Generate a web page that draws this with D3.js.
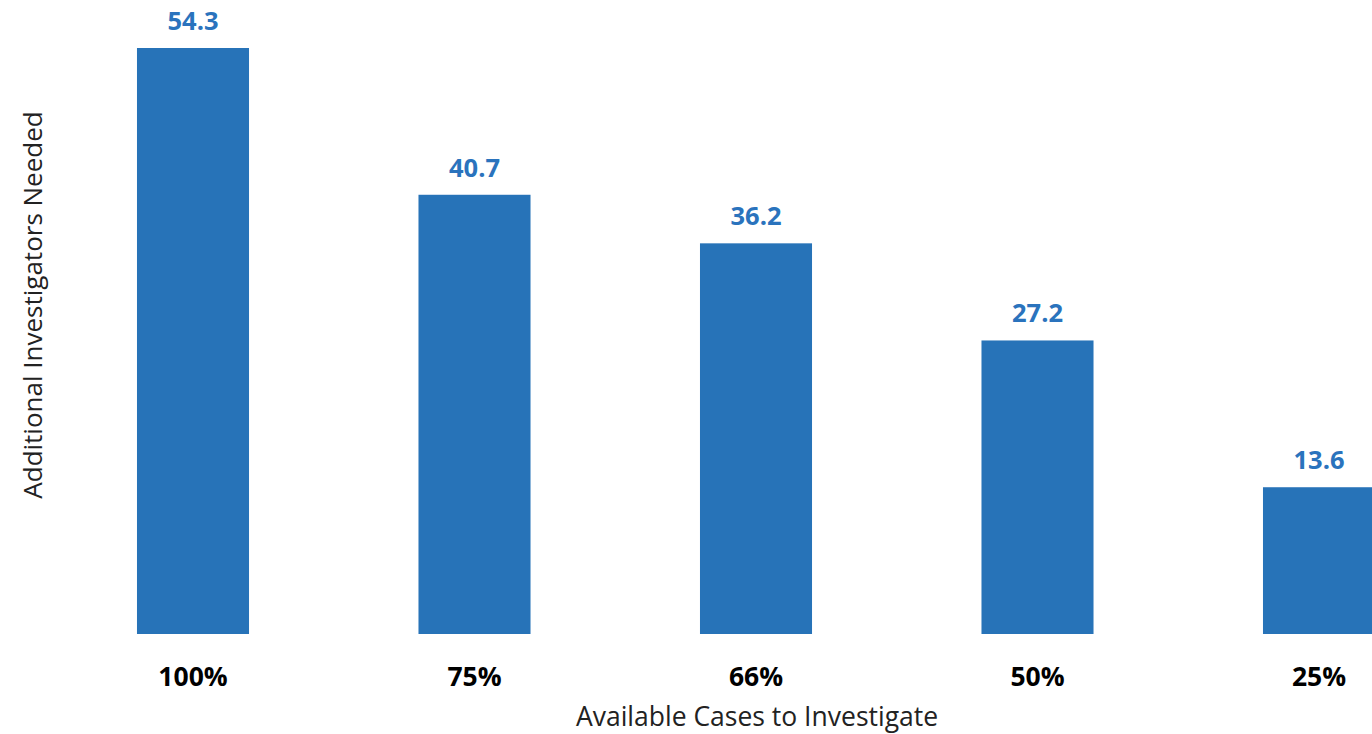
<!DOCTYPE html>
<html><head><meta charset="utf-8">
<script src="https://cdn.jsdelivr.net/npm/d3@7"></script>
<style>html,body{margin:0;padding:0;background:#fff;overflow:hidden}</style>
</head><body>
<svg id="c" width="1372" height="734"></svg>
<script>
const categories = ["100%", "75%", "66%", "50%", "25%"];
const values = [54.3, 40.7, 36.2, 27.2, 13.6];
const xTitle = "Available Cases to Investigate";
const yTitle = "Additional Investigators Needed";

const svg = d3.select("#c");
const font = "'Open Sans', 'Noto Sans', sans-serif";
const x = d3.scaleBand().domain(categories).range([52.25, 1459.75]).paddingInner(0.602).paddingOuter(0.301);
const y = d3.scaleLinear().domain([0, 54.3]).range([634, 48]);

svg.selectAll("rect.bar").data(values).join("rect")
  .attr("class", "bar")
  .attr("x", (d, i) => x(categories[i]))
  .attr("width", x.bandwidth())
  .attr("y", d => y(d))
  .attr("height", d => y(0) - y(d))
  .attr("fill", "#2773b8");

svg.selectAll("text.val").data(values).join("text")
  .attr("class", "val")
  .attr("x", (d, i) => x(categories[i]) + x.bandwidth() / 2)
  .attr("y", d => y(d) - 18)
  .attr("text-anchor", "middle")
  .attr("font-family", font).attr("font-weight", "bold").attr("font-size", 25.5)
  .attr("fill", "#2a73bd")
  .text(d => d.toFixed(1));

const xAxis = d3.axisBottom(x).tickSize(0).tickPadding(0);
const gx = svg.append("g").attr("transform", "translate(0,634)").call(xAxis);
gx.select(".domain").remove();
gx.selectAll("text")
  .attr("dy", null).attr("y", 52)
  .attr("font-family", font).attr("font-weight", "bold").attr("font-size", 26.5)
  .attr("fill", "#000");

svg.append("text").attr("x", 757).attr("y", 726).attr("text-anchor", "middle")
  .attr("font-family", font).attr("font-size", 26.5).attr("fill", "#222").text(xTitle);

svg.append("text").attr("transform", "translate(42,305) rotate(-90)").attr("text-anchor", "middle")
  .attr("font-family", font).attr("font-size", 26).attr("fill", "#222").text(yTitle);
</script>
</body></html>
